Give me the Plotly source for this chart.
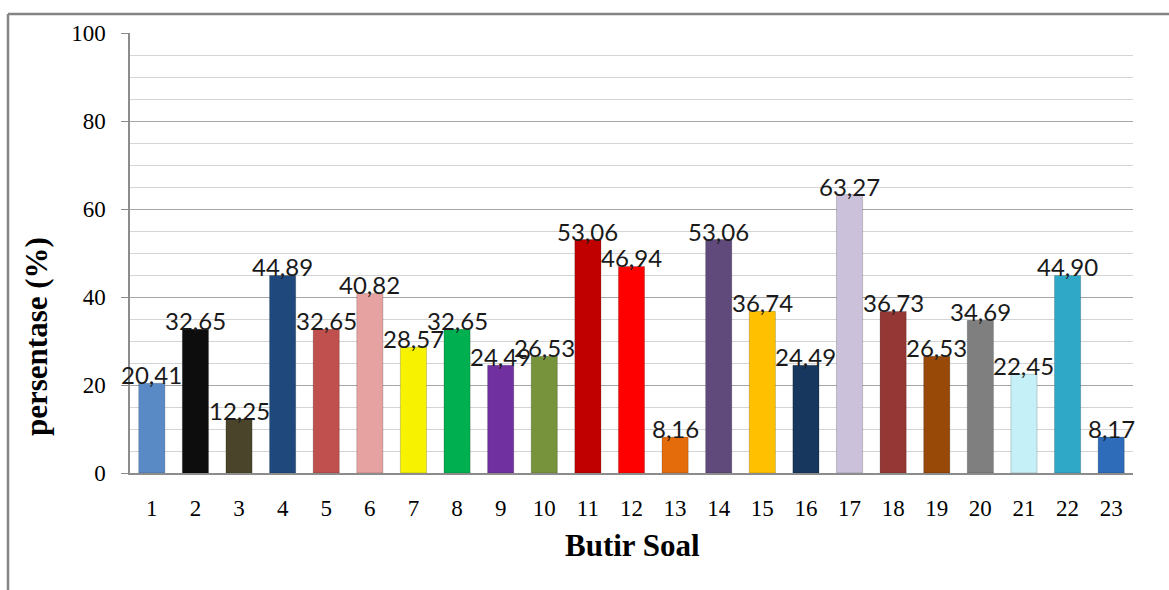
import plotly.graph_objects as go

butir = list(range(1, 24))
persentase = [20.41, 32.65, 12.25, 44.89, 32.65, 40.82, 28.57, 32.65, 24.49, 26.53,
              53.06, 46.94, 8.16, 53.06, 36.74, 24.49, 63.27, 36.73, 26.53, 34.69,
              22.45, 44.90, 8.17]
warna = ["#5A8AC6", "#0D0D0D", "#4A452A", "#1F497D", "#C0504D", "#E6A2A0", "#F7F200",
         "#00B050", "#7030A0", "#77933C", "#C00000", "#FF0000", "#E46C0A", "#604A7B",
         "#FFC000", "#17375E", "#CCC1DA", "#953735", "#984807", "#7F7F7F", "#C6F0F7",
         "#2FA8C8", "#2E6BB8"]
y_ticks = [0, 20, 40, 60, 80, 100]
judul_x = "Butir Soal"
judul_y = "persentase (%)"

W, H = 1169, 590
L, R, T, B = 130, 36, 33, 117
pw, ph = W - L - R, H - T - B

def px(x):
    return (x - L) / pw

def py(y):
    return (H - B - y) / ph

labels = [f"{v:.2f}".replace(".", ",") for v in persentase]

fig = go.Figure()
fig.add_trace(go.Bar(
    x=butir, y=persentase,
    marker=dict(color=warna, line=dict(color="rgba(0,0,0,0.18)", width=1)),
    hoverinfo="x+y",
))

annotations = []
for xv, yv, t in zip(butir, persentase, labels):
    annotations.append(dict(
        x=xv, y=yv, xref="x", yref="y", text=t, showarrow=False,
        yanchor="bottom", xanchor="center", yshift=-8,
        font=dict(family="Lato", size=24, color="#1a1a1a"),
    ))

annotations.append(dict(
    x=px(632), y=py(545), xref="paper", yref="paper", text=f"<b>{judul_x}</b>",
    showarrow=False, xanchor="center", yanchor="middle",
    font=dict(family="Liberation Serif", size=31, color="#000000"),
))
annotations.append(dict(
    x=px(36), y=py(337), xref="paper", yref="paper", text=f"<b>{judul_y}</b>",
    showarrow=False, xanchor="center", yanchor="middle", textangle=-90,
    font=dict(family="Liberation Serif", size=31, color="#000000"),
))

shapes = [
    dict(type="line", xref="paper", yref="paper", x0=px(8), x1=px(1169), y0=py(14), y1=py(14),
         line=dict(color="#858585", width=2.5)),
    dict(type="line", xref="paper", yref="paper", x0=px(8), x1=px(8), y0=py(14), y1=py(592),
         line=dict(color="#858585", width=2.5)),
]

fig.update_layout(
    width=W, height=H,
    margin=dict(l=L, r=R, t=T, b=B, pad=0),
    paper_bgcolor="white", plot_bgcolor="white",
    bargap=0.40,
    showlegend=False,
    annotations=annotations,
    shapes=shapes,
    xaxis=dict(
        range=[0.5, 23.5], tickmode="array", tickvals=butir, ticktext=[str(b) for b in butir],
        showgrid=False, showline=True, linecolor="#8c8c8c", linewidth=1.5,
        ticks="", ticklabelstandoff=14,
        tickfont=dict(family="Liberation Serif", size=23, color="#000000"),
        zeroline=False,
    ),
    yaxis=dict(
        range=[0, 100], tickmode="array", tickvals=y_ticks,
        showgrid=True, gridcolor="#a6a6a6", gridwidth=1.2,
        showline=True, linecolor="#8c8c8c", linewidth=1.5,
        ticks="outside", ticklen=7, tickcolor="#8c8c8c", ticklabelstandoff=11,
        minor=dict(dtick=5, showgrid=True, gridcolor="#d4d4d4", gridwidth=1, ticks=""),
        tickfont=dict(family="Liberation Serif", size=23, color="#000000"),
        zeroline=False,
    ),
)

fig.write_html("out.html")
